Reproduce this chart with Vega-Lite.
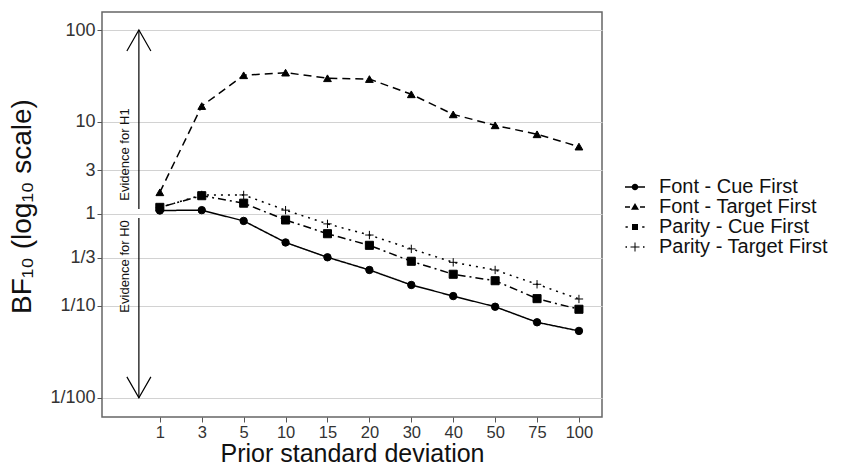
{
  "$schema": "https://vega.github.io/schema/vega-lite/v6.json",
  "width": 500,
  "height": 405,
  "autosize": "none",
  "padding": {"left": 102, "top": 12, "right": 240, "bottom": 51},
  "background": "white",
  "config": {
    "font": "Liberation Sans",
    "view": {"stroke": "#666666", "strokeWidth": 1.5},
    "axis": {"domain": false, "tickColor": "#555555", "tickSize": 5, "labelColor": "#333333", "titleColor": "#111111", "labelFont": "Liberation Sans", "titleFont": "Liberation Sans", "titleFontWeight": "normal"},
    "legend": {"labelFont": "Liberation Sans"}
  },
  "datasets": {
    "bf": [
      {"series": "Font - Cue First", "pos": 1, "sd": "1", "bf": 1.09},
      {"series": "Font - Cue First", "pos": 2, "sd": "3", "bf": 1.10},
      {"series": "Font - Cue First", "pos": 3, "sd": "5", "bf": 0.84},
      {"series": "Font - Cue First", "pos": 4, "sd": "10", "bf": 0.49},
      {"series": "Font - Cue First", "pos": 5, "sd": "15", "bf": 0.338},
      {"series": "Font - Cue First", "pos": 6, "sd": "20", "bf": 0.246},
      {"series": "Font - Cue First", "pos": 7, "sd": "30", "bf": 0.169},
      {"series": "Font - Cue First", "pos": 8, "sd": "40", "bf": 0.128},
      {"series": "Font - Cue First", "pos": 9, "sd": "50", "bf": 0.098},
      {"series": "Font - Cue First", "pos": 10, "sd": "75", "bf": 0.0664},
      {"series": "Font - Cue First", "pos": 11, "sd": "100", "bf": 0.0535},
      {"series": "Font - Target First", "pos": 1, "sd": "1", "bf": 1.72},
      {"series": "Font - Target First", "pos": 2, "sd": "3", "bf": 14.9},
      {"series": "Font - Target First", "pos": 3, "sd": "5", "bf": 32.2},
      {"series": "Font - Target First", "pos": 4, "sd": "10", "bf": 34.4},
      {"series": "Font - Target First", "pos": 5, "sd": "15", "bf": 29.9},
      {"series": "Font - Target First", "pos": 6, "sd": "20", "bf": 29.3},
      {"series": "Font - Target First", "pos": 7, "sd": "30", "bf": 20.0},
      {"series": "Font - Target First", "pos": 8, "sd": "40", "bf": 12.1},
      {"series": "Font - Target First", "pos": 9, "sd": "50", "bf": 9.2},
      {"series": "Font - Target First", "pos": 10, "sd": "75", "bf": 7.35},
      {"series": "Font - Target First", "pos": 11, "sd": "100", "bf": 5.4},
      {"series": "Parity - Cue First", "pos": 1, "sd": "1", "bf": 1.18},
      {"series": "Parity - Cue First", "pos": 2, "sd": "3", "bf": 1.58},
      {"series": "Parity - Cue First", "pos": 3, "sd": "5", "bf": 1.31},
      {"series": "Parity - Cue First", "pos": 4, "sd": "10", "bf": 0.86},
      {"series": "Parity - Cue First", "pos": 5, "sd": "15", "bf": 0.61},
      {"series": "Parity - Cue First", "pos": 6, "sd": "20", "bf": 0.456},
      {"series": "Parity - Cue First", "pos": 7, "sd": "30", "bf": 0.306},
      {"series": "Parity - Cue First", "pos": 8, "sd": "40", "bf": 0.221},
      {"series": "Parity - Cue First", "pos": 9, "sd": "50", "bf": 0.188},
      {"series": "Parity - Cue First", "pos": 10, "sd": "75", "bf": 0.12},
      {"series": "Parity - Cue First", "pos": 11, "sd": "100", "bf": 0.092},
      {"series": "Parity - Target First", "pos": 1, "sd": "1", "bf": 1.17},
      {"series": "Parity - Target First", "pos": 2, "sd": "3", "bf": 1.61},
      {"series": "Parity - Target First", "pos": 3, "sd": "5", "bf": 1.61},
      {"series": "Parity - Target First", "pos": 4, "sd": "10", "bf": 1.10},
      {"series": "Parity - Target First", "pos": 5, "sd": "15", "bf": 0.78},
      {"series": "Parity - Target First", "pos": 6, "sd": "20", "bf": 0.59},
      {"series": "Parity - Target First", "pos": 7, "sd": "30", "bf": 0.417},
      {"series": "Parity - Target First", "pos": 8, "sd": "40", "bf": 0.298},
      {"series": "Parity - Target First", "pos": 9, "sd": "50", "bf": 0.246},
      {"series": "Parity - Target First", "pos": 10, "sd": "75", "bf": 0.172},
      {"series": "Parity - Target First", "pos": 11, "sd": "100", "bf": 0.119}
    ]
  },
  "encoding": {
    "x": {
      "field": "pos", "type": "quantitative",
      "scale": {"domain": [-0.38, 11.55], "nice": false, "zero": false},
      "axis": {
        "title": "Prior standard deviation", "titleFontSize": 25, "titlePadding": 1,
        "values": [1, 2, 3, 4, 5, 6, 7, 8, 9, 10, 11],
        "labelExpr": "['','1','3','5','10','15','20','30','40','50','75','100'][datum.value]",
        "labelFontSize": 16.5, "labelPadding": 2, "grid": false
      }
    },
    "y": {
      "field": "bf", "type": "quantitative",
      "scale": {"type": "log", "domain": [0.0062, 157], "nice": false},
      "axis": {
        "title": "BF₁₀ (log₁₀ scale)", "titleFontSize": 28, "titlePadding": 13, "titleY": 194,
        "values": [0.01, 0.1, 0.333333, 1, 3, 10, 100],
        "labelExpr": "datum.value < 0.02 ? '1/100' : datum.value < 0.2 ? '1/10' : datum.value < 0.5 ? '1/3' : format(datum.value, 'd')",
        "labelFontSize": 18, "labelPadding": 2,
        "grid": true, "gridColor": "#d2d2d2", "gridWidth": 1
      }
    }
  },
  "layer": [
    {
      "data": {"values": [
        {"pos": 0.5, "bf": 100, "bf2": 1.13},
        {"pos": 0.5, "bf": 0.905, "bf2": 0.01}
      ]},
      "mark": {"type": "rule", "color": "black", "strokeWidth": 1.2},
      "encoding": {"y2": {"field": "bf2"}}
    },
    {
      "data": {"values": [{"pos": 0.5, "bf": 100}]},
      "mark": {"type": "point", "shape": "M-1,1.75L0,0L1,1.75", "filled": false, "stroke": "black", "strokeWidth": 1.2, "size": 576, "opacity": 1}
    },
    {
      "data": {"values": [{"pos": 0.5, "bf": 0.01}]},
      "mark": {"type": "point", "shape": "M-1,-1.75L0,0L1,-1.75", "filled": false, "stroke": "black", "strokeWidth": 1.2, "size": 576, "opacity": 1}
    },
    {
      "data": {"values": [
        {"pos": 0.17, "bf": 4.43, "label": "Evidence for H1"},
        {"pos": 0.17, "bf": 0.269, "label": "Evidence for H0"}
      ]},
      "mark": {"type": "text", "angle": 270, "align": "center", "baseline": "middle", "fontSize": 13, "color": "#111111", "font": "Liberation Sans"},
      "encoding": {"text": {"field": "label"}}
    },
    {
      "data": {"name": "bf"},
      "mark": {"type": "line", "color": "black", "strokeWidth": 1.5},
      "encoding": {
        "detail": {"field": "series"},
        "strokeDash": {
          "field": "series", "type": "nominal", "legend": null,
          "scale": {
            "domain": ["Font - Cue First", "Font - Target First", "Parity - Cue First", "Parity - Target First"],
            "range": [[1, 0], [8, 5], [2, 4, 8, 4], [2, 5]]
          }
        }
      }
    },
    {
      "data": {"name": "bf"},
      "mark": {"type": "point", "filled": true, "fill": "black", "stroke": "black", "strokeWidth": 1, "opacity": 1},
      "encoding": {
        "shape": {
          "field": "series", "type": "nominal", "legend": null,
          "scale": {
            "domain": ["Font - Cue First", "Font - Target First", "Parity - Cue First", "Parity - Target First"],
            "range": ["circle", "triangle-up", "square", "M-1,0L1,0M0,-1L0,1"]
          }
        },
        "size": {
          "field": "series", "type": "nominal", "legend": null,
          "scale": {
            "domain": ["Font - Cue First", "Font - Target First", "Parity - Cue First", "Parity - Target First"],
            "range": [55, 70, 55, 120]
          }
        }
      }
    },
    {
      "data": {"name": "bf"},
      "transform": [{"filter": "datum.pos < 0"}],
      "mark": {"type": "point", "filled": true, "fill": "black", "opacity": 1},
      "encoding": {
        "shape": {
          "field": "series", "type": "nominal",
          "scale": {
            "domain": ["Font - Cue First", "Font - Target First", "Parity - Cue First", "Parity - Target First"],
            "range": [
              "M-1,-0.075L-0.3,-0.075L-0.3,0.075L-1,0.075ZM0.3,-0.075L1,-0.075L1,0.075L0.3,0.075ZM0.33,0A0.33,0.33,0,1,1,-0.33,0A0.33,0.33,0,1,1,0.33,0Z",
              "M-1,-0.075L-0.5,-0.075L-0.5,0.075L-1,0.075ZM0.5,-0.075L1,-0.075L1,0.075L0.5,0.075ZM0,-0.4L0.4,0.28L-0.4,0.28Z",
              "M-0.95,-0.075L-0.72,-0.075L-0.72,0.075L-0.95,0.075ZM0.72,-0.075L0.95,-0.075L0.95,0.075L0.72,0.075ZM-0.3,-0.3L0.3,-0.3L0.3,0.3L-0.3,0.3Z",
              "M-0.95,-0.07L-0.8,-0.07L-0.8,0.07L-0.95,0.07ZM0.8,-0.07L0.95,-0.07L0.95,0.07L0.8,0.07ZM-0.45,-0.05L0.45,-0.05L0.45,0.05L-0.45,0.05ZM-0.05,-0.45L0.05,-0.45L0.05,-0.05L-0.05,-0.05ZM-0.05,0.05L0.05,0.05L0.05,0.45L-0.05,0.45Z"
            ]
          },
          "legend": {
            "title": null, "orient": "none", "legendX": 523, "legendY": 165,
            "symbolSize": 400, "symbolStrokeWidth": 0, "symbolFillColor": "black", "symbolOpacity": 1,
            "labelFontSize": 20, "labelColor": "#111111", "labelOffset": 14, "rowPadding": -1, "labelLimit": 300
          }
        }
      }
    }
  ],
  "resolve": {"scale": {"shape": "independent", "size": "independent"}, "legend": {"shape": "independent"}}
}
